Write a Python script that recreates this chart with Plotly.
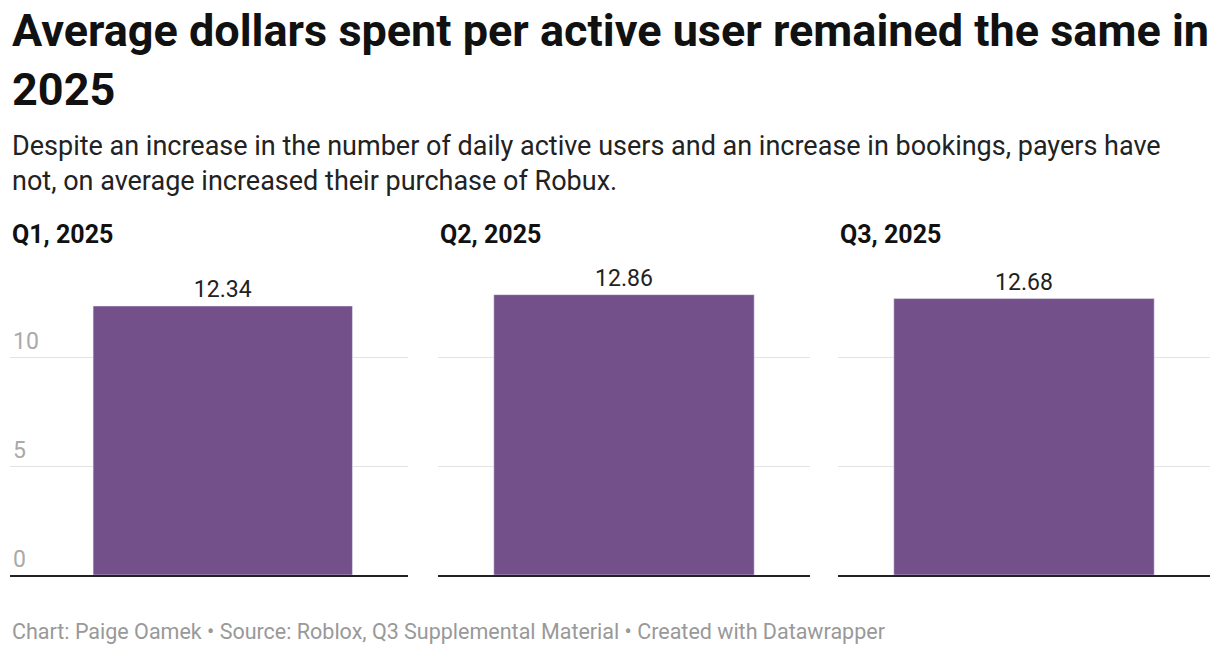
import plotly.graph_objects as go

quarters = ["Q1, 2025", "Q2, 2025", "Q3, 2025"]
values = [12.34, 12.86, 12.68]
tick_vals = [0, 5, 10]
bar_color = "#74508a"

# page has an 8px body margin, so work in shifted pixel coords
OFF = 8
W, H = 1220 - 2 * OFF, 654 - 2 * OFF
base = 575 - OFF
top = 260 - OFF
mt, mb = top, H - base
ph = H - mt - mb
fig = go.Figure()

panels = [(10, 408), (438, 810), (838, 1210)]
for i, (q, v) in enumerate(zip(quarters, values)):
    n = "" if i == 0 else str(i + 1)
    fig.add_trace(go.Bar(x=[0], y=[v], width=[0.7], marker_color=bar_color,
                         text=[f"{v:.2f}"], textposition="outside",
                         textfont=dict(size=23, color="#222"), cliponaxis=False,
                         xaxis="x" + n, yaxis="y" + n, showlegend=False,
                         hoverinfo="skip"))
    l, r = panels[i][0] - OFF, panels[i][1] - OFF
    if i == 0:
        xr = [-(222.5 - 10) / 370, 0.5]
    else:
        xr = [-0.5, 0.5]
    fig.layout["xaxis" + n] = dict(domain=[l / W, r / W], range=xr, showticklabels=False,
                                   showgrid=False, zeroline=False, showline=True,
                                   linecolor="#222", linewidth=1.5, fixedrange=True)
    fig.layout["yaxis" + n] = dict(anchor="x" + n, range=[0, 14.45], tickvals=tick_vals,
                                   showticklabels=(i == 0), ticklabelposition="inside top",
                                   tickfont=dict(size=23, color="#aaa"),
                                   gridcolor="#e3e3e3", zeroline=False, showline=False)
    fig.add_annotation(text=f"<b>{q}</b>", x=l / W, xref="paper", xanchor="left",
                       y=1 + (260 - 234) / ph, yref="paper", yanchor="middle",
                       showarrow=False, font=dict(size=25, color="#111"))

fig.update_layout(
    width=W, height=H, margin=dict(l=0, r=0, t=mt, b=mb),
    plot_bgcolor="white", paper_bgcolor="white",
    font=dict(family="Roboto"),
)
fig.add_annotation(text="<b>Average dollars spent per active user remained the same in<br>2025</b>",
                   x=2 / W, xref="paper", xanchor="left", align="left",
                   y=1 + (top - 60 + OFF) / ph, yref="paper", yanchor="middle",
                   showarrow=False, font=dict(size=45, color="#111"))
fig.add_annotation(text="Despite an increase in the number of daily active users and an increase in bookings, payers have<br>not, on average increased their purchase of Robux.",
                   x=2 / W, xref="paper", xanchor="left", align="left",
                   y=1 + (260 - 163) / ph, yref="paper", yanchor="middle",
                   showarrow=False, font=dict(size=27, color="#222"))
fig.add_annotation(text="Chart: Paige Oamek • Source: Roblox, Q3 Supplemental Material • Created with Datawrapper",
                   x=2 / W, xref="paper", xanchor="left",
                   y=-(631 - 575) / ph, yref="paper", yanchor="middle",
                   showarrow=False, font=dict(size=21.5, color="#999"))

fig.write_html("out.html")
